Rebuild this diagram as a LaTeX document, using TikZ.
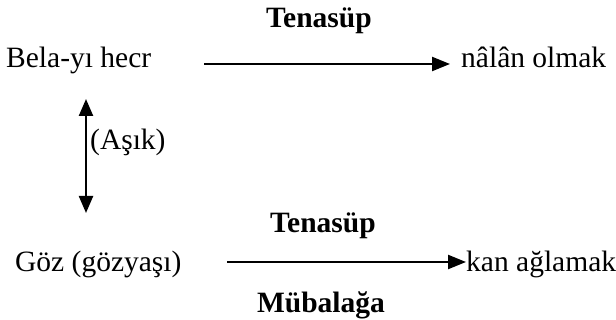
\documentclass[tikz,border=0pt]{standalone}
\usepackage{fontspec}
\setmainfont{Liberation Serif}
\usetikzlibrary{arrows.meta}
\begin{document}
\begin{tikzpicture}[x=1pt,y=-1pt,
  lbl/.style={inner sep=0pt,anchor=base west,font=\fontsize{29.5}{34}\selectfont},
  ttl/.style={inner sep=0pt,anchor=base,font=\fontsize{29.5}{34}\selectfont\bfseries},
  arr/.style={line width=2.3pt,-{Triangle[length=18pt,width=14pt]}},
  darr/.style={line width=2.3pt,{Triangle[length=17pt,width=14pt]}-{Triangle[length=17pt,width=14pt]}}]
\useasboundingbox (0,0) rectangle (616,320);
\node[ttl] (t1) at (319,28) {Tenasüp};
\node[lbl] (bela) at (6,68) {Bela-yı hecr};
\node[lbl] (nalan) at (461,68) {nâlân olmak};
\coordinate (a1s) at (204,64);
\coordinate (a1e) at (450,64);
\draw[arr] (a1s) -- (a1e);
\coordinate (v1) at (86,99);
\coordinate (v2) at (86,213);
\draw[darr] (v1) -- (v2);
\node[lbl] (asik) at (90,150) {(Aşık)};
\node[ttl] (t2) at (323,233) {Tenasüp};
\node[lbl] (goz) at (15,272) {Göz (gözyaşı)};
\node[lbl] (kan) at (466,272) {kan ağlamak};
\coordinate (a2s) at (227,262);
\draw[arr] (a2s) -- (kan.west |- a2s);
\node[ttl] (mb) at (321,313) {Mübalağa};
\end{tikzpicture}
\end{document}
